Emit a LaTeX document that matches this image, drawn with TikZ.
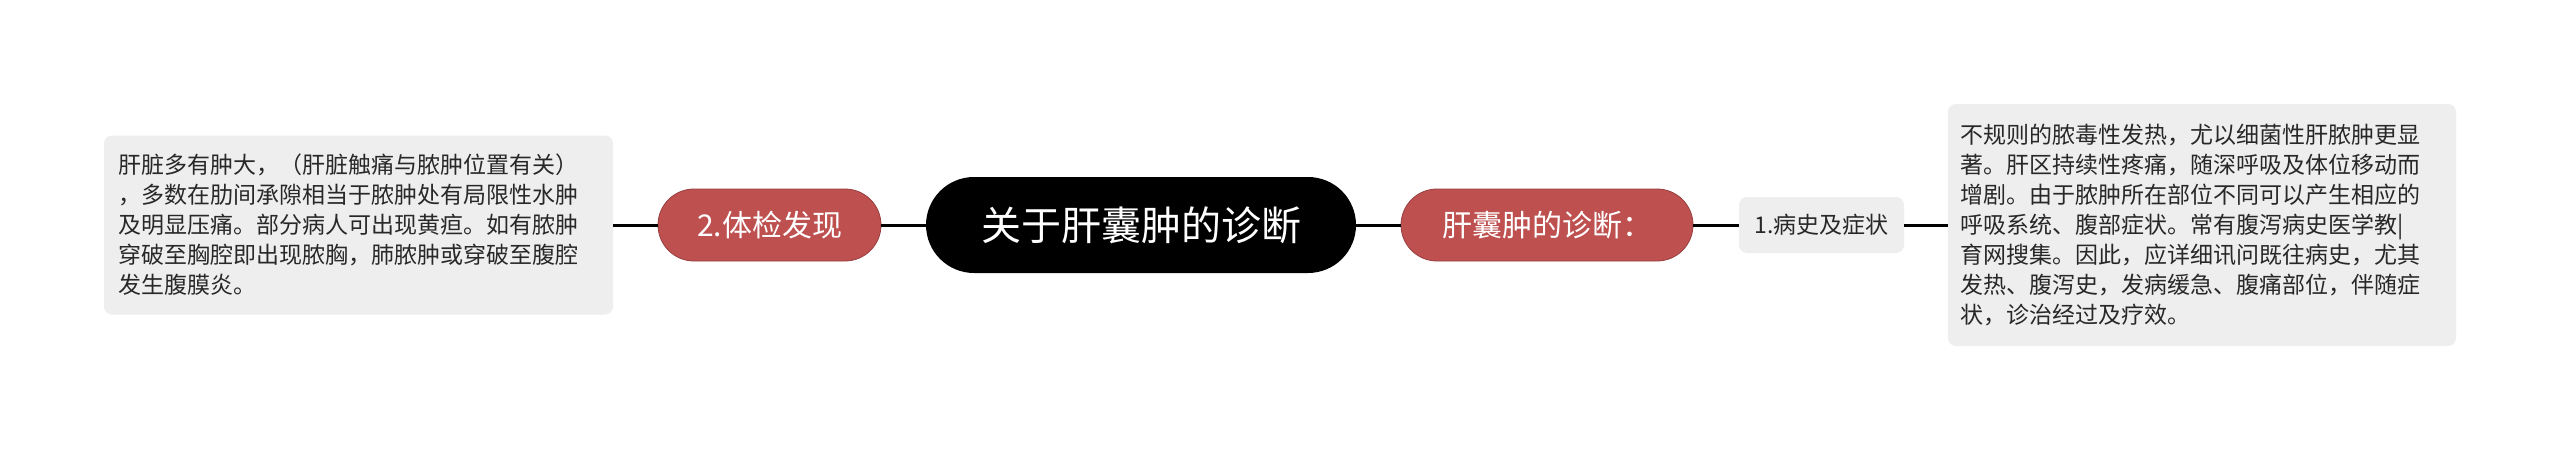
\documentclass[tikz,border=0pt]{standalone}
\usepackage{fontspec}
\setmainfont{Noto Sans CJK SC}
\definecolor{nodered}{RGB}{190,80,80}
\definecolor{boxgray}{RGB}{238,238,238}
\definecolor{textgray}{RGB}{40,40,40}
\begin{document}
\begin{tikzpicture}[x=1pt,y=-1pt]
\tikzset{
  conn/.style={draw=black, line width=3pt},
  redbox/.style={fill=nodered, draw=nodered!80!black, line width=0.8pt, rounded corners=36pt,
    minimum height=72pt, inner sep=0pt, text=white, font=\fontsize{30}{36}\selectfont},
  rootbox/.style={fill=black, rounded corners=48pt, minimum height=96pt, inner sep=0pt,
    text=white, font=\fontsize{40}{48}\selectfont},
  graybox/.style={fill=boxgray, rounded corners=8pt, inner ysep=0pt, text=textgray,
    font=\fontsize{23}{30}\selectfont, align=left},
}
\useasboundingbox (0,0) rectangle (2560,450);
\fill[white] (0,0) rectangle (2560,450);

\node[rootbox, minimum width=430pt] (root) at (1141,225) {关于肝囊肿的诊断};
\node[redbox, minimum width=223pt] (exam) at (769.5,225) {2.体检发现};
\node[redbox, minimum width=292pt] (diag) at (1547,225) {肝囊肿的诊断：};
\node[graybox, minimum width=165pt, minimum height=56pt, inner xsep=0pt] (hist) at (1821.5,225) {1.病史及症状};

\node[graybox, inner xsep=14pt, text width=481pt, minimum height=179pt] (lbox) at (358.5,225)
{肝脏多有肿大，（肝脏触痛与脓肿位置有关）\\
，多数在肋间承隙相当于脓肿处有局限性水肿\\
及明显压痛。部分病人可出现黄疸。如有脓肿\\
穿破至胸腔即出现脓胸，肺脓肿或穿破至腹腔\\
发生腹膜炎。};

\node[graybox, inner xsep=12pt, text width=484pt, minimum height=242pt] (rbox) at (2202,225)
{不规则的脓毒性发热，尤以细菌性肝脓肿更显\\
著。肝区持续性疼痛，随深呼吸及体位移动而\\
增剧。由于脓肿所在部位不同可以产生相应的\\
呼吸系统、腹部症状。常有腹泻病史医学教|\\
育网搜集。因此，应详细讯问既往病史，尤其\\
发热、腹泻史，发病缓急、腹痛部位，伴随症\\
状，诊治经过及疗效。};

\draw[conn] (lbox.east) -- (exam.west);
\draw[conn] (exam.east) -- (root.west);
\draw[conn] (root.east) -- (diag.west);
\draw[conn] (diag.east) -- (hist.west);
\draw[conn] (hist.east) -- (rbox.west);
\end{tikzpicture}
\end{document}
